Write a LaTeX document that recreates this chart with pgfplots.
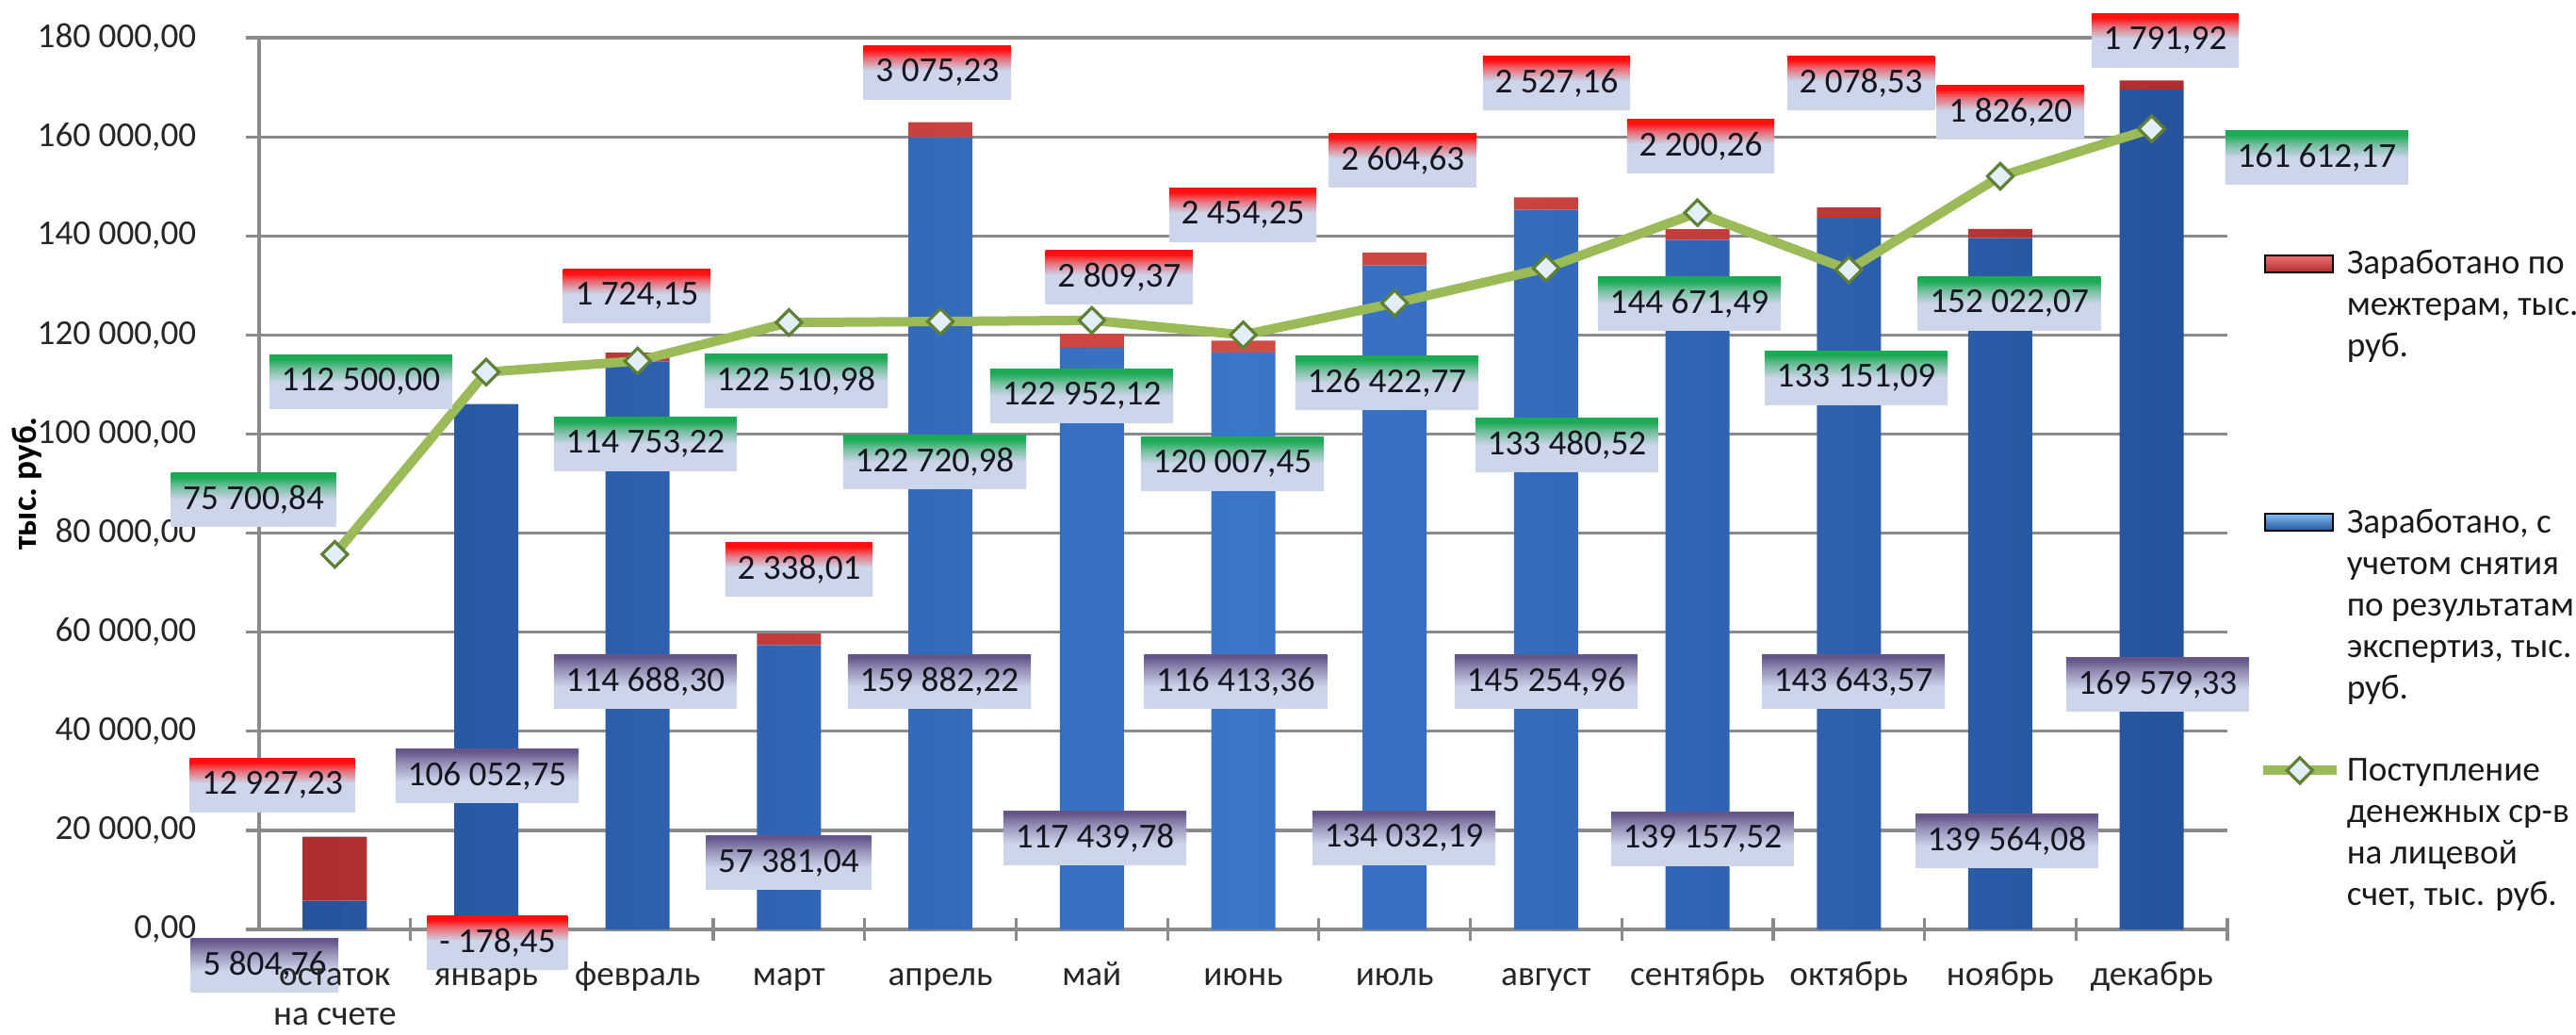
\documentclass[border=0pt]{standalone}
\usepackage{fontspec}
\setmainfont{Carlito}
\usepackage{pgfplots}
\pgfplotsset{compat=1.18}
\usepackage{pgfplotstable}

\definecolor{lbg}{HTML}{CDD5EA}
\definecolor{lred}{HTML}{FF1010}
\definecolor{lgrn}{HTML}{1DAA55}
\definecolor{lpur}{HTML}{65558A}
\definecolor{labtxt}{HTML}{15151F}
\definecolor{bluemid}{HTML}{3B76C9}
\definecolor{blueedge}{HTML}{26539C}
\definecolor{bluetop}{HTML}{7DBDF2}
\definecolor{redmid}{HTML}{D44B46}
\definecolor{rededge}{HTML}{AE2E2E}
\definecolor{redtop}{HTML}{F07070}
\definecolor{linegreen}{HTML}{9BBB59}
\definecolor{mkdraw}{HTML}{5F8035}
\definecolor{mkfill}{HTML}{E2EEF8}
\definecolor{gridgray}{HTML}{8A8A8A}
\definecolor{tickcol}{HTML}{262626}

\pgfdeclareverticalshading{redlab}{100bp}{color(0bp)=(lbg); color(25bp)=(lbg); color(52bp)=(lbg); color(64bp)=(lred!55!lbg); color(71bp)=(lred); color(100bp)=(lred)}
\pgfdeclareverticalshading{grnlab}{100bp}{color(0bp)=(lbg); color(25bp)=(lbg); color(50bp)=(lbg); color(63bp)=(lgrn!55!lbg); color(71bp)=(lgrn); color(100bp)=(lgrn)}
\pgfdeclareverticalshading{purlab}{100bp}{color(0bp)=(lbg); color(25bp)=(lbg); color(45bp)=(lbg); color(62bp)=(lpur!55!lbg); color(73bp)=(lpur); color(100bp)=(lpur)}

\tikzset{
  dl/.style={inner xsep=3.2pt, inner ysep=0pt, minimum height=14.25pt, text=labtxt},
  rl/.style={dl, shading=redlab, shade},
  gl/.style={dl, shading=grnlab, shade},
  pl/.style={dl, shading=purlab, shade},
}
\newcommand{\RL}[3]{\node[rl] at (axis cs:#1,#2) {#3};}
\newcommand{\GL}[3]{\node[gl] at (axis cs:#1,#2) {#3};}
\newcommand{\PL}[3]{\node[pl] at (axis cs:#1,#2) {#3};}

\pgfplotstableread{
i b r g
0 5804.76 12927.23 75700.84
1 106052.75 -178.45 112500.00
2 114688.30 1724.15 114753.22
3 57381.04 2338.01 122510.98
4 159882.22 3075.23 122720.98
5 117439.78 2809.37 122952.12
6 116413.36 2454.25 120007.45
7 134032.19 2604.63 126422.77
8 145254.96 2527.16 133480.52
9 139157.52 2200.26 144671.49
10 143643.57 2078.53 133151.09
11 139564.08 1826.20 152022.07
12 169579.33 1791.92 161612.17
}\data

\pgfplotsset{
  common/.style={scale only axis, width=522.25pt, height=236.5pt,
    xmin=-0.5, xmax=12.5, ymin=0, ymax=180000, clip=false},
}

\begin{document}
\fontsize{9.3pt}{11pt}\selectfont
\begin{tikzpicture}
\begin{axis}[
  common, name=ax,
  axis lines=left, axis line style={-, draw=gridgray, line width=0.9pt},
  ybar stacked, bar width=17pt,
  scaled y ticks=false,
  xtick=\empty,
  extra x ticks={0.5,1.5,...,12.5}, extra x tick labels={},
  extra x tick style={grid=none, tick align=center, major tick length=6pt, xtick style={draw=gridgray, line width=0.8pt}},
  ytick={0,20000,...,180000},
  yticklabels={{0,00},{20 000,00},{40 000,00},{60 000,00},{80 000,00},{100 000,00},{120 000,00},{140 000,00},{160 000,00},{180 000,00}},
  y tick label style={anchor=east, inner sep=0pt, xshift=-13pt, text=tickcol},
  ytick style={draw=gridgray, line width=0.8pt},
  tick align=outside, major tick length=3.5pt,
  ymajorgrids, grid style={draw=gridgray, line width=0.8pt},
  ylabel={\bfseries тыс.~руб.},
  ylabel style={at={(axis description cs:-0.118,0.5)}, anchor=center, text=black},
  legend cell align=left,
  legend style={at={(axis description cs:1.0153,0.7683)}, anchor=north west, draw=none, fill=none,
    inner sep=0pt, row sep=12.75pt, column sep=1.5pt, cells={anchor=base west}, nodes={inner sep=0pt, text=black!90}},
]
\addplot[draw=none, left color=blueedge, right color=blueedge, middle color=bluemid, forget plot] table[x=i,y=b]{\data};
\addplot[draw=none, left color=rededge, right color=rededge, middle color=redmid, forget plot] table[x=i,y=r]{\data};
\addlegendimage{legend image code/.code={\path[top color=redtop, bottom color=rededge] (0.5pt,22.5pt) rectangle (18.5pt,27pt);}}
\addlegendentry{\begin{tabular}[b]{@{}l@{}}Заработано по\\межтерам, тыс.\\руб.\end{tabular}}
\addlegendimage{legend image code/.code={\path[top color=bluetop, bottom color=blueedge] (0.5pt,44.5pt) rectangle (18.5pt,49pt);}}
\addlegendentry{\begin{tabular}[b]{@{}l@{}}\rule{0pt}{32.45pt}Заработано, с\\учетом снятия\\по результатам\\экспертиз, тыс.\\руб.\end{tabular}}
\addlegendimage{legend image code/.code={\draw[linegreen, line width=2.5pt] (0pt,35.8pt) -- (19.5pt,35.8pt); \path[draw=mkdraw, fill=mkfill, line width=0.8pt] (9.75pt,32.4pt) -- (13.15pt,35.8pt) -- (9.75pt,39.2pt) -- (6.35pt,35.8pt) -- cycle;}}
\addlegendentry{\begin{tabular}[b]{@{}l@{}}Поступление\\денежных ср-в\\на лицевой\\счет, тыс. руб.\end{tabular}}
\end{axis}
\begin{axis}[common, hide axis]
\addplot[linegreen, line width=2.5pt, mark=square*, mark size=2.4pt, mark options={rotate=45, fill=mkfill, draw=mkdraw, line width=0.8pt}] table[x=i,y=g]{\data};
% red labels
\RL{-0.413}{29112}{12 927,23}
\RL{1.074}{-2664}{- 178,45}
\RL{1.995}{127865}{1 724,15}
\RL{3.066}{72685}{2 338,01}
\RL{3.980}{172960}{3 075,23}
\RL{5.181}{131670}{2 809,37}
\RL{5.997}{144228}{2 454,25}
\RL{7.054}{155264}{2 604,63}
\RL{8.069}{170867}{2 527,16}
\RL{9.021}{158118}{2 200,26}
\RL{10.08}{170867}{2 078,53}
\RL{11.068}{164968}{1 826,20}
\RL{12.089}{179429}{1 791,92}
% green labels
\GL{-0.537}{86767}{75 700,84}
\GL{0.172}{110550}{112 500,00}
\GL{2.051}{97992}{114 753,22}
\GL{3.047}{110740}{122 510,98}
\GL{3.962}{94377}{122 720,98}
\GL{4.933}{107696}{122 952,12}
\GL{5.928}{94000}{120 007,45}
\GL{6.949}{110359}{126 422,77}
\GL{8.137}{97800}{133 480,52}
\GL{8.946}{126343}{144 671,49}
\GL{10.048}{111311}{133 151,09}
\GL{11.06}{126343}{152 022,07}
\GL{13.090}{155835}{161 612,17}
% purple labels
\PL{-0.463}{-7231}{5 804,76}
\PL{1.006}{31017}{106 052,75}
\PL{2.051}{50000}{114 688,30}
\PL{2.997}{13510}{57 381,04}
\PL{3.993}{50000}{159 882,22}
\PL{5.020}{18457}{117 439,78}
\PL{5.95}{50000}{116 413,36}
\PL{7.061}{18457}{134 032,19}
\PL{8.0}{50000}{145 254,96}
\PL{9.033}{18270}{139 157,52}
\PL{10.03}{50000}{143 643,57}
\PL{11.043}{17888}{139 564,08}
\PL{12.039}{49478}{169 579,33}
\end{axis}
\begin{axis}[common,
  axis lines=left, axis line style={draw=none},
  ytick=\empty,
  xtick={0,...,12},
  xticklabels={{\begin{tabular}[t]{@{}c@{}}остаток\\[-0.6pt]на счете\end{tabular}},январь,февраль,март,апрель,май,июнь,июль,август,сентябрь,октябрь,ноябрь,декабрь},
  x tick label style={anchor=base, yshift=-12.75pt, text=tickcol},
  xtick style={draw=none},
]
\end{axis}
\pgfresetboundingbox
\path (-68.75pt,-27.75pt) rectangle (614.75pt,246.5pt);
\end{tikzpicture}
\end{document}
